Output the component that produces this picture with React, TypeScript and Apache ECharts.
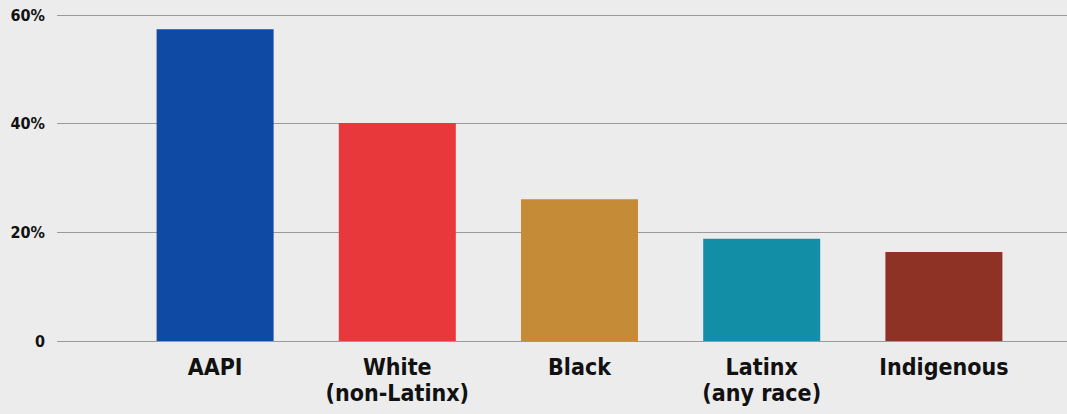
import React, { useEffect, useRef } from "react";
import * as echarts from "echarts";

const categories = ["AAPI", "White\n(non-Latinx)", "Black", "Latinx\n(any race)", "Indigenous"];
const values = [57.4, 40.1, 26.1, 18.8, 16.4];
const barColors = ["#0f4aa5", "#e8383c", "#c68b37", "#128fa6", "#8f3226"];
const yTicks = [0, 20, 40, 60];

export default function App() {
  const ref = useRef<HTMLDivElement>(null);
  useEffect(() => {
    if (!ref.current) return;
    const chart = echarts.init(ref.current, null, { renderer: "svg" });
    chart.setOption({
      animation: false,
      backgroundColor: "#ececec",
      grid: [
        { left: 57, right: 0, top: 15, bottom: 73 },
        { left: 124, right: 32, top: 15, bottom: 73 },
      ],
      xAxis: [
        { gridIndex: 0, type: "value", min: 0, max: 1, show: false },
        {
          gridIndex: 1,
          type: "category",
          data: categories,
          axisLine: { show: false },
          axisTick: { show: false },
          axisLabel: {
            margin: 13,
            color: "#111",
            fontFamily: "'DejaVu Sans Condensed', 'Liberation Sans Narrow', Roboto",
            fontWeight: "bold",
            fontSize: 23,
            lineHeight: 26,
            interval: 0,
          },
        },
      ],
      yAxis: [
        {
          gridIndex: 0,
          type: "value",
          min: yTicks[0],
          max: yTicks[yTicks.length - 1],
          interval: 20,
          axisLine: { show: false },
          axisTick: { show: false },
          splitLine: { lineStyle: { color: "#9a9a9a", width: 1 } },
          axisLabel: {
            margin: 12,
            color: "#111",
            fontFamily: "'DejaVu Sans Condensed', Roboto",
            fontWeight: "bold",
            fontSize: 16,
            formatter: (v: number) => (v === 0 ? "0" : v + "%"),
          },
        },
        {
          gridIndex: 1,
          type: "value",
          min: yTicks[0],
          max: yTicks[yTicks.length - 1],
          show: false,
          splitLine: { show: false },
        },
      ],
      series: [
        {
          type: "bar",
          xAxisIndex: 1,
          yAxisIndex: 1,
          barWidth: 117,
          data: values.map((v, i) => ({ value: v, itemStyle: { color: barColors[i] } })),
        },
      ],
    });
    return () => chart.dispose();
  }, []);
  return (
    <div
      ref={ref}
      style={{ position: "fixed", left: 0, top: 0, width: 1067, height: 414 }}
    />
  );
}
